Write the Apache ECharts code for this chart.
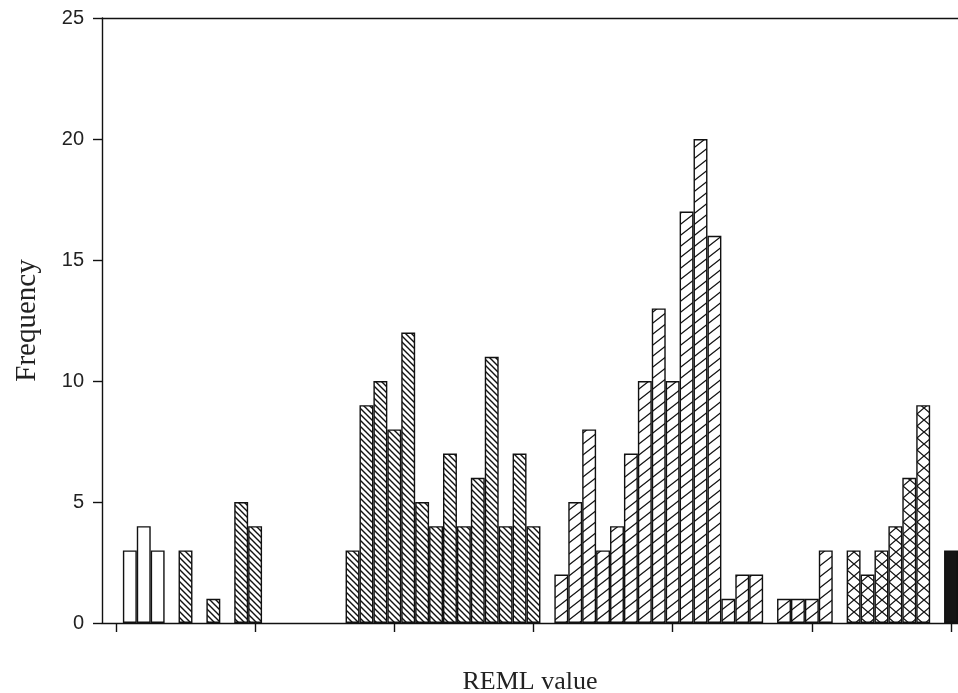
<!DOCTYPE html>
<html>
<head>
<meta charset="utf-8">
<script src="https://cdn.jsdelivr.net/npm/echarts@6/dist/echarts.min.js"></script>
<style>
html,body{margin:0;padding:0;background:#fff;}
#chart{width:958px;height:693px;}
</style>
</head>
<body>
<div id="chart"></div>
<script>
// ---- data (bin position on x, frequency on y) ----
const openBins = [1, 2, 3];
const openFreq = [3, 4, 3];

const denseBins = [5, 7, 9, 10, 17, 18, 19, 20, 21, 22, 23, 24, 25, 26, 27, 28, 29, 30];
const denseFreq = [3, 1, 5, 4, 3, 9, 10, 8, 12, 5, 4, 7, 4, 6, 11, 4, 7, 4];

const slashBins = [32, 33, 34, 35, 36, 37, 38, 39, 40, 41, 42, 43, 44, 45, 46, 48, 49, 50, 51];
const slashFreq = [2, 5, 8, 3, 4, 7, 10, 13, 10, 17, 20, 16, 1, 2, 2, 1, 1, 1, 3];

const crossBins = [53, 54, 55, 56, 57, 58];
const crossFreq = [3, 2, 3, 4, 6, 9];

const solidBins = [60];
const solidFreq = [3];

const xTicks = [0, 10, 20, 30, 40, 50, 60];
const yTicks = [0, 5, 10, 15, 20, 25];

// ---- hatch patterns ----
function makePattern(kind) {
  const c = document.createElement('canvas');
  let w, h;
  if (kind === 'back') { w = 6; h = 6; }
  else if (kind === 'fwd') { w = 14; h = 11; }
  else { w = 14; h = 12; }
  c.width = w; c.height = h;
  const g = c.getContext('2d');
  g.fillStyle = '#fff';
  g.fillRect(0, 0, w, h);
  g.strokeStyle = '#111';
  g.lineWidth = kind === 'back' ? 1.4 : 1.3;
  g.beginPath();
  if (kind === 'back' || kind === 'cross') {
    g.moveTo(-w, -h); g.lineTo(2 * w, 2 * h);
    g.moveTo(-w, 0); g.lineTo(w, 2 * h);
    g.moveTo(0, -h); g.lineTo(2 * w, h);
  }
  if (kind === 'fwd' || kind === 'cross') {
    g.moveTo(-w, 2 * h); g.lineTo(2 * w, -h);
    g.moveTo(-w, h); g.lineTo(w, -h);
    g.moveTo(0, 2 * h); g.lineTo(2 * w, 0);
  }
  g.stroke();
  return { image: c, repeat: 'repeat' };
}

const chart = echarts.init(document.getElementById('chart'), null, { renderer: 'canvas' });

const gridLeft = 102, gridRight = 0, gridTop = 18, gridBottom = 70;
const xMin = -1, xMax = 60.5;
const barW = (958 - gridLeft - gridRight) / (xMax - xMin);

function pairs(xs, ys) { return xs.map((x, i) => [x, ys[i]]); }

function barSeries(name, xs, ys, color) {
  return {
    name: name,
    type: 'bar',
    data: pairs(xs, ys),
    barWidth: barW,
    barGap: '-100%',
    itemStyle: { color: color, borderColor: '#111', borderWidth: 1.4 },
    emphasis: { disabled: true },
    animation: false
  };
}

const option = {
  backgroundColor: '#fff',
  animation: false,
  grid: { left: gridLeft, right: gridRight, top: gridTop, bottom: gridBottom, containLabel: false, outerBoundsMode: 'none' },
  xAxis: [{
    type: 'value',
    min: xMin,
    max: xMax,
    position: 'bottom',
    name: 'REML value',
    nameLocation: 'middle',
    nameGap: 46,
    nameMoveOverlap: false,
    nameTextStyle: { fontFamily: 'Liberation Serif', fontSize: 26, color: '#222' },
    axisLine: { show: true, onZero: false, lineStyle: { color: '#111', width: 1.4 } },
    axisTick: { show: true, inside: false, length: 9, customValues: xTicks, lineStyle: { color: '#111', width: 1.4 } },
    axisLabel: { show: false },
    splitLine: { show: false }
  }, {
    type: 'value',
    min: xMin,
    max: xMax,
    position: 'top',
    axisLine: { show: true, onZero: false, lineStyle: { color: '#111', width: 1.4 } },
    axisTick: { show: false },
    axisLabel: { show: false },
    splitLine: { show: false }
  }],
  yAxis: {
    type: 'value',
    min: 0,
    max: 25,
    interval: 5,
    name: 'Frequency',
    nameLocation: 'middle',
    nameGap: 60,
    nameRotate: 90,
    nameMoveOverlap: false,
    nameTextStyle: { fontFamily: 'Liberation Serif', fontSize: 29, color: '#222' },
    axisLine: { show: true, onZero: false, lineStyle: { color: '#111', width: 1.4 } },
    axisTick: { show: true, inside: false, length: 9, customValues: yTicks, lineStyle: { color: '#111', width: 1.4 } },
    axisLabel: { show: true, margin: 18, fontFamily: 'Liberation Sans', fontSize: 20, color: '#222', customValues: yTicks },
    splitLine: { show: false }
  },
  series: [
    barSeries('open', openBins, openFreq, '#ffffff'),
    barSeries('dense', denseBins, denseFreq, makePattern('back')),
    barSeries('slash', slashBins, slashFreq, makePattern('fwd')),
    barSeries('cross', crossBins, crossFreq, makePattern('cross')),
    barSeries('solid', solidBins, solidFreq, '#151515')
  ]
};

chart.setOption(option);
</script>
</body>
</html>
